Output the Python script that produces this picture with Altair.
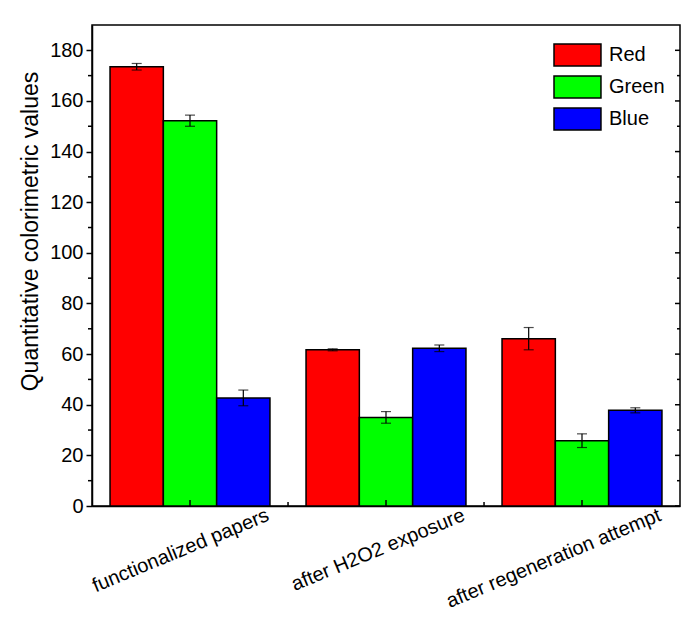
import altair as alt
import pandas as pd

categories = ["functionalized papers", "after H2O2 exposure", "after regeneration attempt"]
channels = ["Red", "Green", "Blue"]
colors = ["#ff0000", "#00ff00", "#0000ff"]
red_vals = [173.5, 61.7, 66.1]
red_err = [1.3, 0.4, 4.4]
green_vals = [152.2, 35.0, 25.8]
green_err = [2.2, 2.3, 2.7]
blue_vals = [42.7, 62.3, 37.8]
blue_err = [3.1, 1.3, 1.0]
major_ticks = [0, 20, 40, 60, 80, 100, 120, 140, 160, 180]
minor_ticks = [10, 30, 50, 70, 90, 110, 130, 150, 170]

rows = []
for ch, vals, errs in [("Red", red_vals, red_err), ("Green", green_vals, green_err), ("Blue", blue_vals, blue_err)]:
    for c, v, e in zip(categories, vals, errs):
        rows.append({"category": c, "channel": ch, "value": v, "lo": v - e, "hi": v + e})
df = pd.DataFrame(rows)

FONT = "Liberation Sans"
W, H = 588, 481

xscale = alt.Scale(domain=categories, paddingInner=0.184, paddingOuter=0.092)
xoff = alt.Scale(domain=channels, paddingInner=0, paddingOuter=0)
yscale = alt.Scale(domain=[0, 190], nice=False, zero=True)

# legend swatch: 47 x 22 px rectangle (size 484 -> unit = 11 px)
legend_symbol = "M-1,-1H3.27V1H-1Z"

bars = alt.Chart(df).mark_bar(stroke="black", strokeWidth=1.5, opacity=1).encode(
    x=alt.X("category:N", scale=xscale, sort=categories,
            axis=alt.Axis(title=None, labelAngle=-22.5, labelAlign="right", labelBaseline="middle",
                          labelFontSize=20, labelFont=FONT, labelColor="black", labelLimit=400,
                          labelOffset=78, labelPadding=8, ticks=False, tickSize=0,
                          domainColor="black", domainWidth=1.5, grid=False)),
    xOffset=alt.XOffset("channel:N", scale=xoff, sort=channels),
    y=alt.Y("value:Q", scale=yscale,
            axis=alt.Axis(title="Quantitative colorimetric values", values=major_ticks,
                          labelFontSize=20, labelFont=FONT, labelColor="black", labelPadding=3,
                          tickSize=6, tickColor="black", tickWidth=1.5,
                          domainColor="black", domainWidth=1.5, grid=False,
                          titleFont=FONT, titleFontSize=23, titleFontWeight="normal", titleColor="black",
                          titleX=-62, titleY=206, titleAngle=-90, titleAlign="center", titleBaseline="middle")),
    color=alt.Color("channel:N", scale=alt.Scale(domain=channels, range=colors),
                    legend=alt.Legend(title=None, orient="none", legendX=461, legendY=18,
                                      symbolType=legend_symbol, symbolSize=484,
                                      symbolStrokeColor="black", symbolStrokeWidth=1.5,
                                      labelFont=FONT, labelFontSize=20, labelColor="black",
                                      labelOffset=32, rowPadding=4, padding=0)),
)

err_rule = alt.Chart(df).mark_rule(color="black", strokeWidth=1.2).encode(
    x=alt.X("category:N", scale=xscale, sort=categories),
    xOffset=alt.XOffset("channel:N", scale=xoff, sort=channels),
    y=alt.Y("lo:Q", scale=yscale),
    y2="hi:Q",
)
err_lo = alt.Chart(df).mark_tick(color="black", thickness=1.2, size=10, orient="horizontal").encode(
    x=alt.X("category:N", scale=xscale, sort=categories),
    xOffset=alt.XOffset("channel:N", scale=xoff, sort=channels),
    y=alt.Y("lo:Q", scale=yscale),
)
err_hi = alt.Chart(df).mark_tick(color="black", thickness=1.2, size=10, orient="horizontal").encode(
    x=alt.X("category:N", scale=xscale, sort=categories),
    xOffset=alt.XOffset("channel:N", scale=xoff, sort=channels),
    y=alt.Y("hi:Q", scale=yscale),
)

tick_df = pd.DataFrame({"t": major_ticks})
minor_df = pd.DataFrame({"t": minor_ticks})
right_ticks = alt.Chart(tick_df).mark_rule(color="black", strokeWidth=1.5).encode(
    y=alt.Y("t:Q", scale=yscale), x=alt.value(W - 5), x2=alt.value(W))
left_minor = alt.Chart(minor_df).mark_rule(color="black", strokeWidth=1.5).encode(
    y=alt.Y("t:Q", scale=yscale), x=alt.value(-4), x2=alt.value(0))
right_minor = alt.Chart(minor_df).mark_rule(color="black", strokeWidth=1.5).encode(
    y=alt.Y("t:Q", scale=yscale), x=alt.value(W - 3), x2=alt.value(W))

cat_df = pd.DataFrame({"category": categories})
x_ticks = alt.Chart(cat_df).mark_rule(color="black", strokeWidth=1.5).encode(
    x=alt.X("category:N", scale=xscale, sort=categories, bandPosition=0.5),
    y=alt.value(H), y2=alt.value(H - 6))
mid_df = pd.DataFrame({"category": categories[1:]})
x_minor = alt.Chart(mid_df).mark_rule(color="black", strokeWidth=1.5, xOffset=-18).encode(
    x=alt.X("category:N", scale=xscale, sort=categories, bandPosition=0),
    y=alt.value(H), y2=alt.value(H - 4))

chart = alt.layer(bars, err_rule, err_lo, err_hi, right_ticks, left_minor, right_minor, x_ticks, x_minor).properties(
    width=W, height=H,
    autosize=alt.AutoSizeParams(type="none"),
    padding={"left": 92, "top": 25, "right": 3, "bottom": 112},
    background="white",
).configure_view(stroke="black", strokeWidth=1.5)

chart.save("out.html", embed_options={"renderer": "svg", "actions": False})
